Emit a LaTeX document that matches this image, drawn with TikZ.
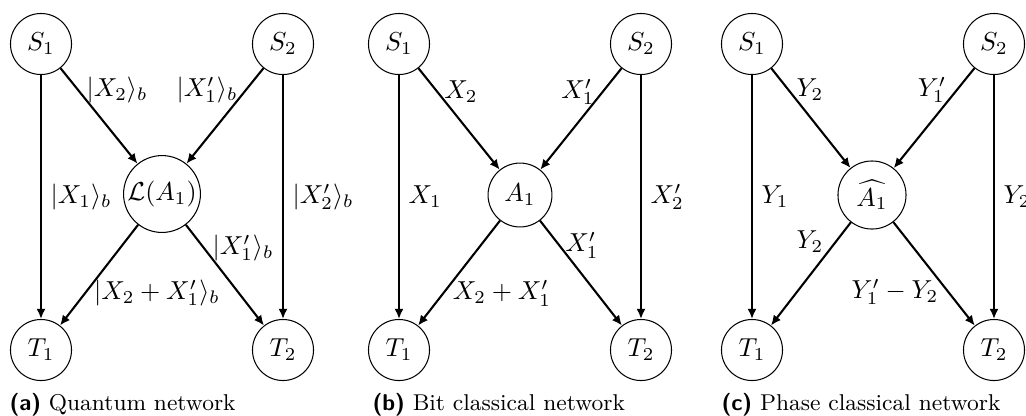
\documentclass[tikz,border=0pt]{standalone}
\usetikzlibrary{arrows.meta}
\begin{document}
\begin{tikzpicture}[x=0.385pt, y=-0.385pt,
  nd/.style={circle, draw, line width=0.4pt, inner sep=0pt, minimum size=23.5pt},
  hub/.style={nd, minimum size=#1},
  arr/.style={line width=0.8pt, -{Latex[length=3.9pt, width=3.5pt]}},
  lbl/.style={inner sep=0pt},
  subcap/.style={anchor=base west, inner sep=0pt, font=\fontsize{8.8}{10.6}\selectfont}]
\useasboundingbox (0,0) rectangle (1026,415);

% ---------- (a) quantum network ----------
\node[nd] (a1) at (41,44) {$S_1$};
\node[nd] (a2) at (283,44) {$S_2$};
\node[nd] (a3) at (41,350) {$T_1$};
\node[nd] (a4) at (283,350) {$T_2$};
\node[hub=29.6pt] (a5) at (162,194) {$\mathcal{L}(A_1)$};
\draw[arr] (a1) -- (a3) node[midway, right] {$|X_1\rangle_b$};
\draw[arr] (a2) -- (a4) node[midway, right] {$|X_2'\rangle_b$};
\draw[arr] (a1) -- (a5);
\draw[arr] (a2) -- (a5);
\draw[arr] (a5) -- (a3);
\draw[arr] (a5) -- (a4);
\node[lbl] (la1) at (117,90) {$|X_2\rangle_b$};
\node[lbl] (la2) at (207,90) {$|X_1'\rangle_b$};
\node[lbl] (la5) at (243,248) {$|X_1'\rangle_b$};
\node[lbl] (la6) at (157,293) {$|X_2+X_1'\rangle_b$};
\node[subcap] (ca) at (9,410) {{\sffamily\bfseries (a)} Quantum network};

% ---------- (b) bit classical network ----------
\node[nd] (b1) at (399,44) {$S_1$};
\node[nd] (b2) at (641,44) {$S_2$};
\node[nd] (b3) at (399,350) {$T_1$};
\node[nd] (b4) at (641,350) {$T_2$};
\node[hub=24.6pt] (b5) at (520,195) {$A_1$};
\draw[arr] (b1) -- (b3) node[midway, right] {$X_1$};
\draw[arr] (b2) -- (b4) node[midway, right] {$X_2'$};
\draw[arr] (b1) -- (b5);
\draw[arr] (b2) -- (b5);
\draw[arr] (b5) -- (b3);
\draw[arr] (b5) -- (b4);
\node[lbl] (lb1) at (461,92) {$X_2$};
\node[lbl] (lb2) at (578,92) {$X_1'$};
\node[lbl] (lb5) at (582,245) {$X_1'$};
\node[lbl] (lb6) at (502,293) {$X_2+X_1'$};
\node[subcap] (cb) at (372,410) {{\sffamily\bfseries (b)} Bit classical network};

% ---------- (c) phase classical network ----------
\node[nd] (c1) at (752,44) {$S_1$};
\node[nd] (c2) at (994,44) {$S_2$};
\node[nd] (c3) at (752,350) {$T_1$};
\node[nd] (c4) at (994,350) {$T_2$};
\node[hub=26.2pt] (c5) at (872,195) {$\widehat{A_1}$};
\draw[arr] (c1) -- (c3) node[midway, right] {$Y_1$};
\draw[arr] (c2) -- (c4) node[midway, right] {$Y_2$};
\draw[arr] (c1) -- (c5);
\draw[arr] (c2) -- (c5);
\draw[arr] (c5) -- (c3);
\draw[arr] (c5) -- (c4);
\node[lbl] (lc1) at (810,90) {$Y_2$};
\node[lbl] (lc2) at (932,90) {$Y_1'$};
\node[lbl] (lc5) at (810,242) {$Y_2$};
\node[lbl] (lc6) at (895,292) {$Y_1'-Y_2$};
\node[subcap] (cc) at (721,410) {{\sffamily\bfseries (c)} Phase classical network};
\end{tikzpicture}
\end{document}
